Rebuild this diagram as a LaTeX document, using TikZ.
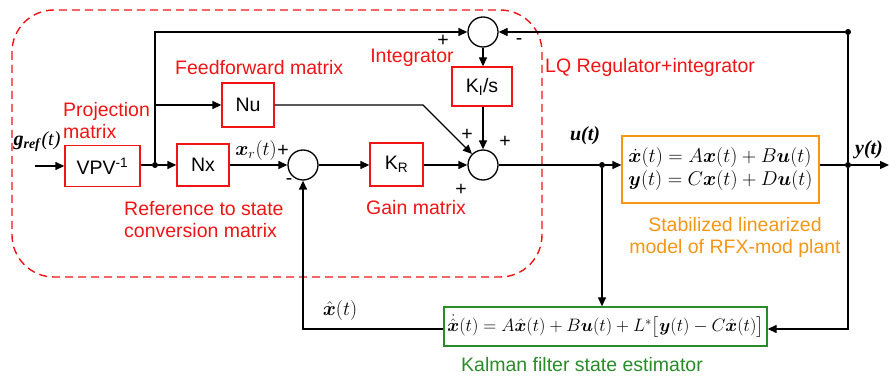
\RequirePackage{fix-cm}
\documentclass[tikz,border=0pt]{standalone}
\usepackage{amsmath,bm}
\usepackage{fontspec}
\setmainfont{Liberation Sans}
\newfontfamily\tmfont{Liberation Serif}
\usetikzlibrary{arrows.meta}
\definecolor{rd}{RGB}{240,20,20}
\definecolor{orng}{RGB}{245,150,20}
\definecolor{grn}{RGB}{40,140,40}
\begin{document}
\begin{tikzpicture}[x=1pt,y=-1pt,
  every node/.style={font=\fontsize{19.5}{22}\selectfont, inner sep=0pt},
  blk/.style={draw=rd, line width=1.3pt, minimum width=52pt, minimum height=42pt},
  sumc/.style={circle, draw, line width=1.3pt, minimum size=30pt},
  lbl/.style={text=rd, align=left},
  mth/.style={font=\fontsize{20}{22}\selectfont},
  arr/.style={-{Triangle[length=9pt,width=8pt]}},
  wire/.style={line width=1.3pt},
  dot/.style={circle, fill, minimum size=6pt}]
\useasboundingbox (0,0) rectangle (889,379);
% dashed region
\draw[rd, line width=1.4pt, dash pattern=on 8pt off 5pt, rounded corners=42pt] (12,10) rectangle (542,277);
% blocks
\node[blk, minimum width=75pt, minimum height=41pt] (vpv) at (102.5,166) {VPV\textsuperscript{-1}};
\node[blk] (nx) at (203,165) {Nx};
\node[blk, minimum height=44pt] (nu) at (248,105) {Nu};
\node[blk, minimum width=53pt, minimum height=43pt] (kr) at (396.5,164.5) {K\textsubscript{R}};
\node[blk, minimum width=60pt, minimum height=39pt] (ki) at (482,86.5) {K\textsubscript{I}/s};
\node[sumc] (s1) at (303,165) {};
\node[sumc] (s2) at (483,165) {};
\node[sumc] (s3) at (483,32) {};
\node[draw=orng, line width=1.3pt, minimum width=197pt, minimum height=67pt, align=left, mth] (plant) at (720.5,169.5)
  {$\dot{\bm x}(t)=A\bm x(t)+B\bm u(t)$\\[1pt]$\bm y(t)=C\bm x(t)+D\bm u(t)$};
\node[draw=grn, line width=1.3pt, minimum width=323pt, minimum height=39pt, font=\fontsize{18}{20}\selectfont] (kal) at (605.5,326.5)
  {$\dot{\hat{\bm x}}(t)=A\hat{\bm x}(t)+B\bm u(t)+L^{*}\big[\bm y(t)-C\hat{\bm x}(t)\big]$};
% junctions
\node[dot] (j1) at (155,165) {};
\node[dot] (j2) at (602,165) {};
\node[dot] (j3) at (848,165) {};
\node[dot] (j4) at (848,32) {};
\coordinate (in) at (35,166);
\coordinate (out) at (889,165);
\coordinate (nuk) at (423,105);
\coordinate (kb) at (848,329);
\coordinate (xh) at (303,329);
% wires
\draw[wire,arr] (in) -- (vpv.west |- in);
\draw[wire] (vpv.east |- j1) -- (j1);
\draw[wire,arr] (j1) -- (nx.west);
\draw[wire,arr] (nx.east) -- (s1.west);
\draw[wire,arr] (s1.east) -- (kr.west |- s1);
\draw[wire,arr] (kr.east |- s2) -- (s2.west);
\draw[wire,arr] (j1) -- (j1 |- s3) -- (s3.west);
\draw[wire,arr] (j1 |- nu) -- (nu.west);
\draw[wire,arr] (nu.east) -- (nuk) -- (s2.135);
\draw[wire,arr] (s3.south) -- (ki.north -| s3);
\draw[wire,arr] (ki.south -| s2) -- (s2.north);
\draw[wire] (s2.east) -- (j2);
\draw[wire,arr] (j2) -- (plant.west |- j2);
\draw[wire] (plant.east |- j3) -- (j3);
\draw[wire,arr] (j3) -- (out);
\draw[wire] (j3) -- (j4);
\draw[wire,arr] (j4) -- (s3.east);
\draw[wire,arr] (j3) -- (kb) -- (kal.east |- kb);
\draw[wire,arr] (j2) -- (j2 |- kal.north);
\draw[wire,arr] (kal.west |- xh) -- (xh) -- (s1.south);
% labels
\node[lbl, anchor=west] at (63,121) {Projection\\matrix};
\node[lbl, anchor=west] at (175,68) {Feedforward matrix};
\node[lbl] at (412,58) {Integrator};
\node[lbl, anchor=west] at (545,67) {LQ Regulator+integrator};
\node[lbl, anchor=west] at (124,220) {Reference to state\\conversion matrix};
\node[lbl, anchor=west] at (366,208) {Gain matrix};
\node[text=orng, align=center] at (735,237) {Stabilized linearized\\model of RFX-mod plant};
\node[text=grn] at (582,365) {Kalman filter state estimator};
% math labels
\node[font=\fontsize{20}{22}\selectfont\tmfont] at (37,142) {\textbf{\textit{g}}\textsubscript{\textbf{\textit{ref}}}\textit{(t)}};
\node[mth] at (256,151) {$\bm x_r(t)$};
\node[font=\fontsize{20}{22}\selectfont\tmfont\bfseries\itshape] at (585,136) {u(t)};
\node[font=\fontsize{20}{22}\selectfont\tmfont\bfseries\itshape] at (869,150) {y(t)};
\node[mth] at (340,311) {$\hat{\bm x}(t)$};
% signs
\node at (283,151) {+};
\node at (289,182) {-};
\node at (443,41) {+};
\node at (519,42) {-};
\node at (467,135) {+};
\node at (505,142) {+};
\node at (461,190) {+};
\end{tikzpicture}
\end{document}
